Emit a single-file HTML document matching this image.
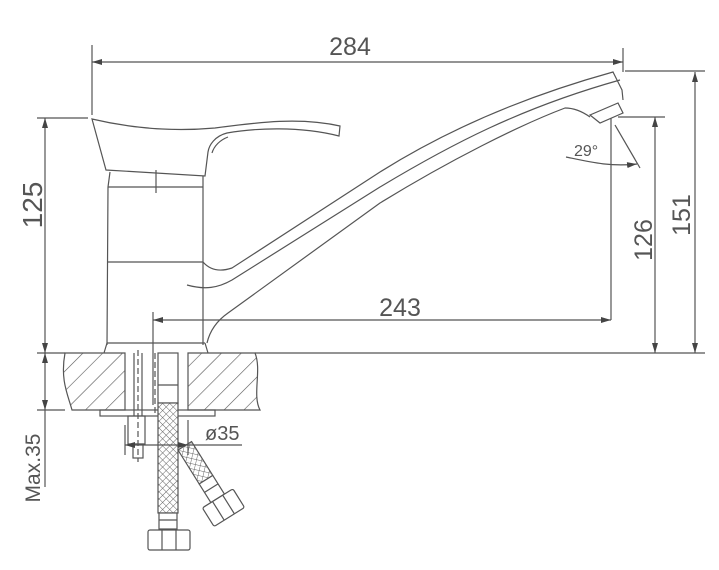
<!DOCTYPE html>
<html><head><meta charset="utf-8"><style>html,body{margin:0;padding:0;background:#fff}svg{display:block}text{font-family:"Liberation Sans",sans-serif;fill:#555}</style></head><body>
<svg width="719" height="570" viewBox="0 0 719 570" xmlns="http://www.w3.org/2000/svg">
<defs>
<marker id="a" viewBox="0 0 10 6" refX="10" refY="3" markerWidth="10" markerHeight="6" orient="auto-start-reverse" markerUnits="userSpaceOnUse"><path d="M0,0L10,3L0,6z" fill="#444"/></marker>
<pattern id="h" width="14" height="14" patternUnits="userSpaceOnUse" patternTransform="rotate(45)"><line x1="0" y1="0" x2="0" y2="14" stroke="#555" stroke-width="1.2"/></pattern>
<pattern id="m" width="5" height="5" patternUnits="userSpaceOnUse" patternTransform="rotate(45)"><rect width="5" height="5" fill="#fff"/><path d="M0,0H5M0,0V5" stroke="#666" stroke-width="1"/></pattern>
</defs>
<g fill="none" stroke="#555" stroke-width="1.2">
<line x1="92" y1="45" x2="92" y2="115"/>
<line x1="623" y1="48" x2="623" y2="72"/>
<line x1="92" y1="62" x2="623" y2="62" marker-start="url(#a)" marker-end="url(#a)"/>
<line x1="625" y1="71" x2="705" y2="71"/>
<line x1="695" y1="72" x2="695" y2="353" marker-start="url(#a)" marker-end="url(#a)"/>
<line x1="618" y1="117" x2="665" y2="117"/>
<line x1="655" y1="117" x2="655" y2="353" marker-start="url(#a)" marker-end="url(#a)"/>
<line x1="37" y1="118" x2="88" y2="118"/>
<line x1="45" y1="118" x2="45" y2="353" marker-start="url(#a)" marker-end="url(#a)"/>
<line x1="37" y1="353" x2="65" y2="353"/>
<line x1="255" y1="353" x2="705" y2="353"/>
<!-- handle -->
<path d="M92,119 C130,128 170,132 215,128 C260,122 300,117 340,126 L339,136 C300,126 255,128 227,133 C215,136 209,145 208,152 L205,176 L106,170 Z"/>
<path d="M212,153 C214,146 220,140 228,137"/>
<!-- body -->
<path d="M110,172 L108,187 L107,345 M203,176 L203,345"/>
<line x1="108" y1="187" x2="203" y2="187"/>
<line x1="108" y1="262" x2="203" y2="262"/>
<line x1="156" y1="170" x2="156" y2="193"/>
<path d="M107,343 L205,343 M104,353 L107,343 M205,343 L208,353"/>
<!-- spout -->
<path d="M203,262 C210,270 220,272 232,268 L380,172 C450,128 530,95 613,72 L622,90 L623,100"/>
<path d="M187,285 C205,290 218,288 232,280 L380,187 C450,145 520,108 620,80"/>
<path d="M207,343 C210,330 218,320 228,313 L380,203 C450,160 520,125 565,108 C575,108 583,112 590,117"/>
<path d="M590,115 L600,123 L623,113 L618,103 Z"/>
<!-- angle 29 -->
<line x1="611" y1="118" x2="611" y2="320"/>
<line x1="615" y1="125" x2="640" y2="168"/>
<path d="M566,157 C590,162 610,167 637,164" marker-end="url(#a)"/>
<line x1="153" y1="312" x2="153" y2="405"/>
<line x1="153" y1="320" x2="611" y2="320" marker-start="url(#a)" marker-end="url(#a)"/>
<path d="M65,353 L125,353 L125,410 L72,410 C68,395 60,380 65,353 Z" fill="url(#h)"/>
<path d="M188,353 L255,353 C262,370 252,395 260,410 L188,410 Z" fill="url(#h)"/>
<line x1="37" y1="410" x2="65" y2="410"/>
<rect x="100" y="410" width="115" height="6"/>
<line x1="45" y1="353" x2="45" y2="410" marker-start="url(#a)" marker-end="url(#a)"/>
<line x1="45" y1="410" x2="45" y2="487"/>
<line x1="134" y1="353" x2="134" y2="416"/>
<line x1="142" y1="353" x2="142" y2="416"/>
<line x1="138" y1="350" x2="138" y2="462" stroke-dasharray="6,3"/>
<rect x="128" y="416" width="17" height="28"/>
<rect x="133" y="444" width="10" height="14"/>
<line x1="155" y1="353" x2="155" y2="416" stroke-dasharray="6,3"/>
<rect x="158" y="353" width="20" height="50" fill="#fff"/>
<line x1="158" y1="385" x2="178" y2="385"/>
<rect x="158" y="403" width="20" height="110" fill="url(#m)"/>
<rect x="159" y="513" width="18" height="16" fill="#fff"/>
<line x1="159" y1="520" x2="177" y2="520"/>
<rect x="148" y="530" width="42" height="20" rx="2" fill="#fff"/>
<line x1="162" y1="530" x2="162" y2="550"/><line x1="176" y1="530" x2="176" y2="550"/>
<g transform="translate(178,450) rotate(-32)">
<rect x="0" y="0" width="16" height="40" fill="url(#m)"/>
<rect x="0" y="40" width="16" height="22" fill="#fff"/>
<line x1="0" y1="50" x2="16" y2="50"/>
<rect x="-10" y="62" width="36" height="22" rx="2" fill="#fff"/>
<line x1="2" y1="62" x2="2" y2="84"/><line x1="14" y1="62" x2="14" y2="84"/>
</g>
<line x1="125" y1="425" x2="125" y2="455"/>
<line x1="188" y1="420" x2="188" y2="455"/>
<line x1="125" y1="445" x2="188" y2="445" marker-start="url(#a)" marker-end="url(#a)"/>
<line x1="188" y1="445" x2="242" y2="445"/>
</g>
<text x="350" y="55" font-size="25" text-anchor="middle">284</text>
<text x="400" y="316" font-size="25" text-anchor="middle">243</text>
<text x="574" y="156" font-size="16">29°</text>
<text transform="translate(42,205) rotate(-90)" font-size="28" text-anchor="middle">125</text>
<text transform="translate(652,240) rotate(-90)" font-size="25" text-anchor="middle">126</text>
<text transform="translate(690,215) rotate(-90)" font-size="25" text-anchor="middle">151</text>
<text transform="translate(40,468) rotate(-90)" font-size="21" text-anchor="middle">Max.35</text>
<text x="205" y="440" font-size="20">ø35</text>
</svg>
</body></html>
